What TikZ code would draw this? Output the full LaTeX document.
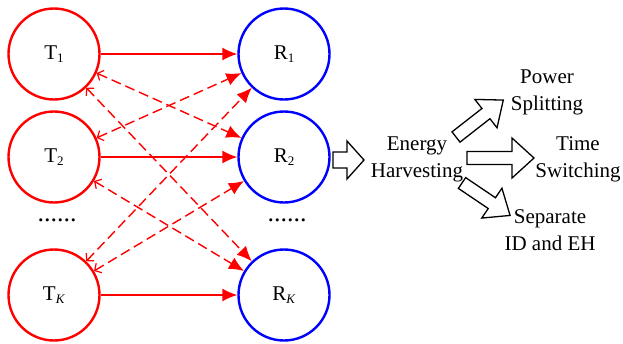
\documentclass[tikz,border=0pt]{standalone}
\usepackage{fontspec}
\setmainfont{Liberation Serif}
\usetikzlibrary{arrows.meta}
\newcommand\sbs[1]{\raisebox{-0.35ex}{\fontsize{13}{13}\selectfont #1}}
\begin{document}
\begin{tikzpicture}[x=1pt,y=-1pt,
  tnode/.style={circle,draw=red,line width=2.4pt,minimum size=91pt,inner sep=0pt,font=\fontsize{21}{21}\selectfont},
  rnode/.style={circle,draw=blue,line width=2.4pt,minimum size=91pt,inner sep=0pt,font=\fontsize{21}{21}\selectfont},
  txt/.style={align=center,font=\fontsize{21}{27}\selectfont,inner sep=0pt},
  dots/.style={font=\fontsize{26}{26}\selectfont,inner sep=0pt},
  solidlink/.style={red,line width=1.4pt,-{Latex[length=15pt,width=13pt]}},
  dashlink/.style={red,line width=1.4pt,dash pattern=on 10pt off 5pt,{Straight Barb[length=5pt,width=11pt,line width=1.2pt,sep=0pt]}-{Latex[length=15pt,width=13pt]}},
  hollow/.style={draw=black,fill=white,line width=1.3pt,line join=miter}]
\useasboundingbox (0,0) rectangle (623,343);
\node[tnode] (T1) at (54,54) {T\sbs{1}};
\node[tnode] (T2) at (54,157) {T\sbs{2}};
\node[tnode] (TK) at (54,295) {T\sbs{\textit{K}}};
\node[rnode] (R1) at (284,54) {R\sbs{1}};
\node[rnode] (R2) at (284,157) {R\sbs{2}};
\node[rnode] (RK) at (284,295) {R\sbs{\textit{K}}};
\node[dots] (d1) at (57,220) {......};
\node[dots] (d2) at (287,220) {......};
\draw[solidlink] (T1) -- (R1);
\draw[solidlink] (T2) -- (R2);
\draw[solidlink] (TK) -- (RK);
\draw[dashlink] (T1) -- (R2);
\draw[dashlink] (T1) -- (RK);
\draw[dashlink] (T2) -- (R1);
\draw[dashlink] (T2) -- (RK);
\draw[dashlink] (TK) -- (R1);
\draw[dashlink] (TK) -- (R2);
\node[txt] (EH) at (417,159) {Energy\\Harvesting};
\node[txt] (PS) at (547,92) {Power\\Splitting};
\node[txt] (TS) at (578,159) {Time\\Switching};
\node[txt] (SE) at (550,230) {Separate\\ID and EH};
% hollow arrows
\begin{scope}[shift={(333,160)}]
\draw[hollow] (0,-8) -- (14,-8) -- (14,-19) -- (31,0) -- (14,19) -- (14,8) -- (0,8) -- cycle;
\end{scope}
\begin{scope}[shift={(467,158)}]
\draw[hollow] (0,-6.5) -- (45,-6.5) -- (45,-20) -- (67,0) -- (45,20) -- (45,6.5) -- (0,6.5) -- cycle;
\end{scope}
\begin{scope}[shift={(456,137)},rotate=38]
\draw[hollow] (0,-6.5) -- (38,-6.5) -- (38,-18) -- (60,0) -- (38,18) -- (38,6.5) -- (0,6.5) -- cycle;
\end{scope}
\begin{scope}[shift={(462,183)},rotate=-34]
\draw[hollow] (0,-6.5) -- (36,-6.5) -- (36,-18) -- (58,0) -- (36,18) -- (36,6.5) -- (0,6.5) -- cycle;
\end{scope}
\end{tikzpicture}
\end{document}
